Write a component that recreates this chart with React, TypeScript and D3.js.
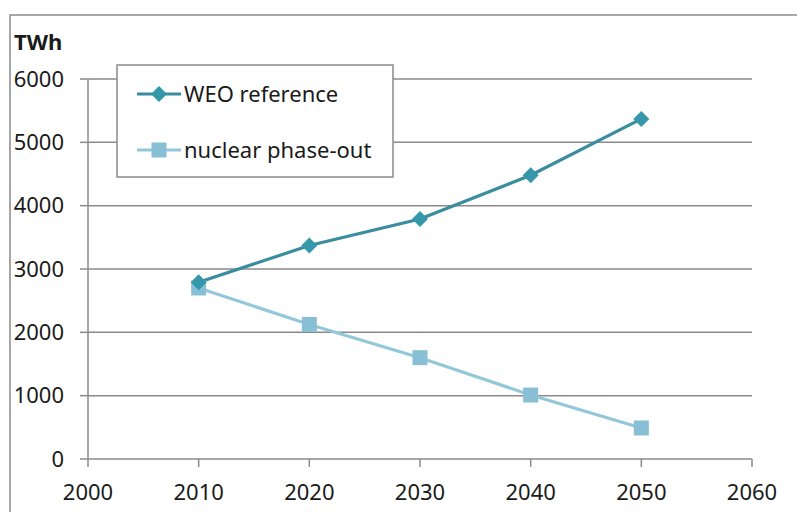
import React from "react";
import * as d3 from "d3";

const years = [2010, 2020, 2030, 2040, 2050];
const weoReference = [2790, 3370, 3790, 4480, 5370];
const nuclearPhaseOut = [2700, 2125, 1600, 1010, 490];
const xTicks = [2000, 2010, 2020, 2030, 2040, 2050, 2060];
const yTicks = [0, 1000, 2000, 3000, 4000, 5000, 6000];
const seriesNames = ["WEO reference", "nuclear phase-out"];

const W = 797;
const H = 512;
const FONT = "'Noto Sans', 'Open Sans', sans-serif";
const WEO_LINE = "#3a8d9f";
const WEO_MARK = "#3497aa";
const NUC_LINE = "#93c8da";
const NUC_MARK = "#88bfd5";
const GRID = "#8a8a8a";

export default function App() {
  const x = d3.scaleLinear().domain([2000, 2060]).range([88, 752]);
  const y = d3.scaleLinear().domain([0, 6000]).range([459, 79]);
  const line = d3
    .line<number>()
    .x((_, i) => x(years[i]))
    .y((d) => y(d));
  const diamond = (cx: number, cy: number, r: number) =>
    `M${cx},${cy - r}L${cx + r},${cy}L${cx},${cy + r}L${cx - r},${cy}Z`;

  return (
    <svg
      width={W}
      height={H}
      style={{ position: "absolute", left: 0, top: 0, background: "#fff" }}
      fontFamily={FONT}
    >
      <rect x={0} y={0} width={W} height={H} fill="#fff" />
      {/* outer chart border */}
      <rect x={10} y={15} width={W + 20} height={H + 20} fill="none" stroke={GRID} strokeWidth={1.5} />
      {/* gridlines */}
      {yTicks.slice(1).map((t) => (
        <line key={t} x1={x(2000)} x2={x(2060)} y1={y(t)} y2={y(t)} stroke={GRID} strokeWidth={1.5} />
      ))}
      {/* axes */}
      <line x1={x(2000)} x2={x(2000)} y1={y(6000)} y2={y(0)} stroke={GRID} strokeWidth={1.5} />
      <line x1={x(2000)} x2={x(2060)} y1={y(0)} y2={y(0)} stroke={GRID} strokeWidth={1.5} />
      {yTicks.map((t) => (
        <g key={t}>
          <line x1={x(2000) - 8} x2={x(2000)} y1={y(t)} y2={y(t)} stroke={GRID} strokeWidth={1.5} />
          <text x={64} y={y(t)} dy="0.35em" textAnchor="end" fontSize={22} fill="#1a1a1a">
            {t}
          </text>
        </g>
      ))}
      {xTicks.map((t) => (
        <g key={t}>
          <line x1={x(t)} x2={x(t)} y1={y(0)} y2={y(0) + 8} stroke={GRID} strokeWidth={1.5} />
          <text x={x(t)} y={500} textAnchor="middle" fontSize={22} fill="#1a1a1a">
            {t}
          </text>
        </g>
      ))}
      <text x={14} y={50} fontSize={22} fontWeight="bold" fill="#1a1a1a">
        TWh
      </text>

      {/* series */}
      <path d={line(nuclearPhaseOut) || ""} fill="none" stroke={NUC_LINE} strokeWidth={3.2} />
      <path d={line(weoReference) || ""} fill="none" stroke={WEO_LINE} strokeWidth={3.2} />
      {nuclearPhaseOut.map((v, i) => (
        <rect key={"n" + i} x={x(years[i]) - 7.5} y={y(v) - 7.5} width={15} height={15} fill={NUC_MARK} />
      ))}
      {weoReference.map((v, i) => (
        <path key={"w" + i} d={diamond(x(years[i]), y(v), 8)} fill={WEO_MARK} />
      ))}

      {/* legend */}
      <rect x={117} y={65} width={276} height={112} fill="#fff" stroke={GRID} strokeWidth={1.5} />
      <line x1={137} x2={181} y1={94} y2={94} stroke={WEO_LINE} strokeWidth={3.2} />
      <path d={diamond(159, 94, 8)} fill={WEO_MARK} />
      <text x={184} y={94} dy="0.35em" fontSize={22} fill="#1a1a1a">
        {seriesNames[0]}
      </text>
      <line x1={137} x2={181} y1={150} y2={150} stroke={NUC_LINE} strokeWidth={3.2} />
      <rect x={151.5} y={142.5} width={15} height={15} fill={NUC_MARK} />
      <text x={184} y={150} dy="0.35em" fontSize={22} fill="#1a1a1a">
        {seriesNames[1]}
      </text>
    </svg>
  );
}
